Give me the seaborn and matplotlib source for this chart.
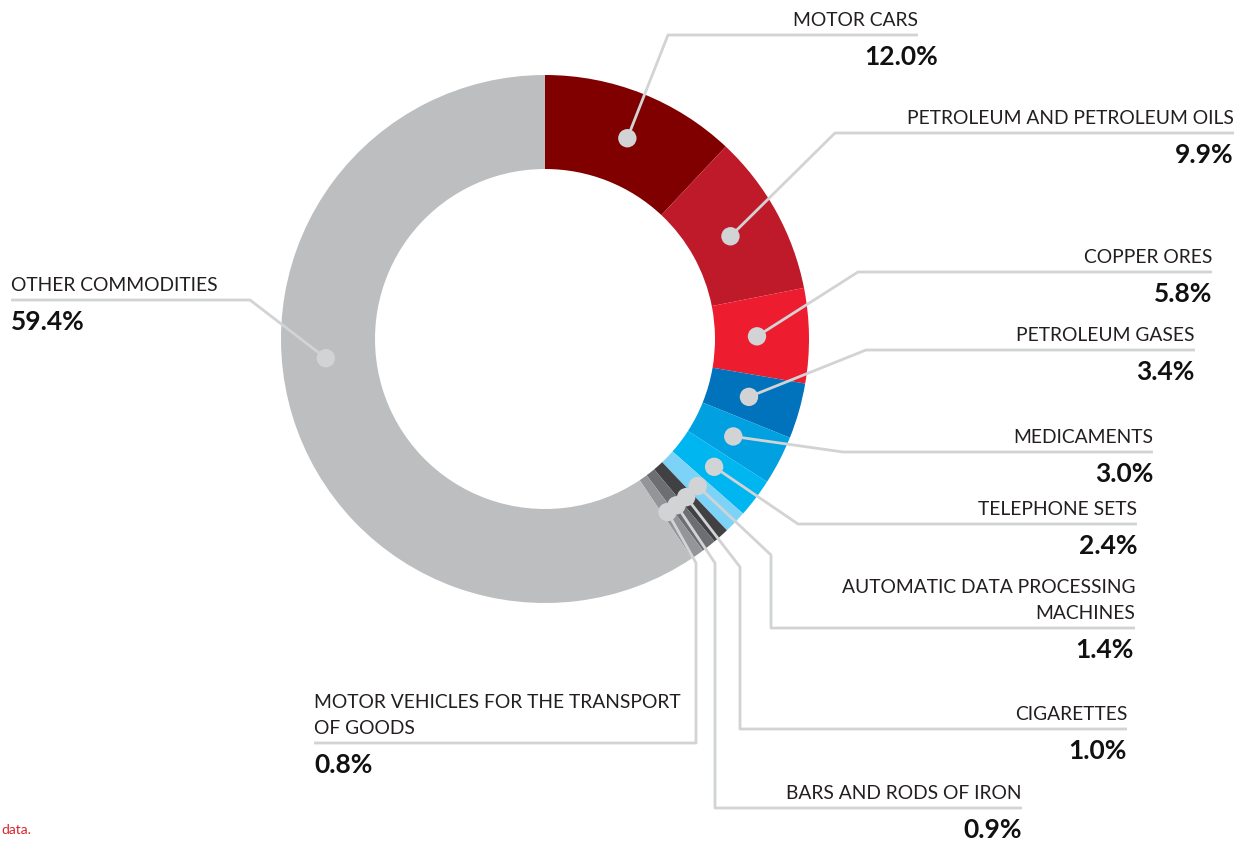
import numpy as np
import matplotlib
matplotlib.use("Agg")
import matplotlib.pyplot as plt
import seaborn as sns

# data
commodities = [
    "MOTOR CARS",
    "PETROLEUM AND PETROLEUM OILS",
    "COPPER ORES",
    "PETROLEUM GASES",
    "MEDICAMENTS",
    "TELEPHONE SETS",
    "AUTOMATIC DATA PROCESSING\nMACHINES",
    "CIGARETTES",
    "BARS AND RODS OF IRON",
    "MOTOR VEHICLES FOR THE TRANSPORT\nOF GOODS",
    "OTHER COMMODITIES",
]
shares = [12.0, 9.9, 5.8, 3.4, 3.0, 2.4, 1.4, 1.0, 0.9, 0.8, 59.4]
colors = ["#800000", "#be1a2a", "#ed1c2e", "#0073bc", "#00a0e1", "#00b6f0",
          "#7dd3f7", "#414042", "#6d6e71", "#939598", "#bcbec0"]

sns.set_theme(style="white")
plt.rcParams["font.family"] = ["Lato", "DejaVu Sans"]

W, H = 1251, 846
fig = plt.figure(figsize=(W / 100, H / 100), dpi=100)
ax = fig.add_axes([0, 0, 1, 1])

def Y(y):  # pixel row -> data y
    return H - y

cx, cy, r_out, ring = 545, 339, 264, 94
palette = sns.color_palette(colors)
ax.pie(shares, colors=palette, startangle=90, counterclock=False,
       radius=r_out, center=(cx, Y(cy)),
       wedgeprops=dict(width=ring, linewidth=0))

# dot angles (clockwise from top) at the middle of each wedge
cum = np.cumsum([0] + shares[:-1])
mid = (cum + np.array(shares) / 2) * 3.6
mid[0] += 0.7
mid[-1] = 265  # the big slice has its dot on the left
rad = np.full(len(shares), 212.0)
rad[0] = 217
rad[-1] = 220
dots = [(cx + r * np.sin(np.radians(a)), cy - r * np.cos(np.radians(a))) for a, r in zip(mid, rad)]

# layout: bend points (px), underline y, text edge x, side, percent x
layout = [
    ([(668, 35)], 35, 918, "r", 938),
    ([(835, 133)], 133, 1234, "r", 1233),
    ([(858, 272)], 272, 1212, "r", 1212),
    ([(866, 350)], 350, 1195, "r", 1194),
    ([(843, 452)], 452, 1153, "r", 1153),
    ([(798, 524)], 524, 1137, "r", 1137),
    ([(771, 555), (771, 628)], 628, 1135, "r", 1134),
    ([(740, 567), (740, 729)], 729, 1127, "r", 1127),
    ([(715, 563), (715, 808)], 808, 1022, "r", 1022),
    ([(696, 563), (696, 743)], 743, 314, "l", 314),
    ([(250, 300)], 300, 11, "l", 11),
]

line_c = "#d1d3d4"
for (dx, dy), (bends, uy, tx, side, px), name, val in zip(dots, layout, commodities, shares):
    pts = [(dx, dy)] + bends + [(tx, uy)]
    xs = [p[0] for p in pts]
    ys = [Y(p[1]) for p in pts]
    ax.plot(xs, ys, color=line_c, lw=2.0, zorder=3, solid_capstyle="butt")
    lines = name.split("\n")
    ha = "right" if side == "r" else "left"
    for i, ln in enumerate(lines):
        base = uy - 9 - 26 * (len(lines) - 1 - i)
        ax.text(tx, Y(base), ln, ha=ha, va="baseline", fontsize=13.9,
                fontweight="normal", color="#231f20", zorder=5)
    ax.text(px, Y(uy + 30), f"{val:.1f}%", ha=ha, va="baseline", fontsize=19,
            fontweight="bold", color="#111111", zorder=5)

ax.scatter([d[0] for d in dots], [Y(d[1]) for d in dots], s=175,
           color=line_c, edgecolor="none", zorder=4)

ax.text(1, Y(834), "data.", ha="left", va="baseline", fontsize=10,
        color="#d7262d")

ax.set_xlim(0, W)
ax.set_ylim(0, H)
ax.set_aspect("auto")
ax.axis("off")

fig.savefig("out.png", dpi=100, facecolor="white")
